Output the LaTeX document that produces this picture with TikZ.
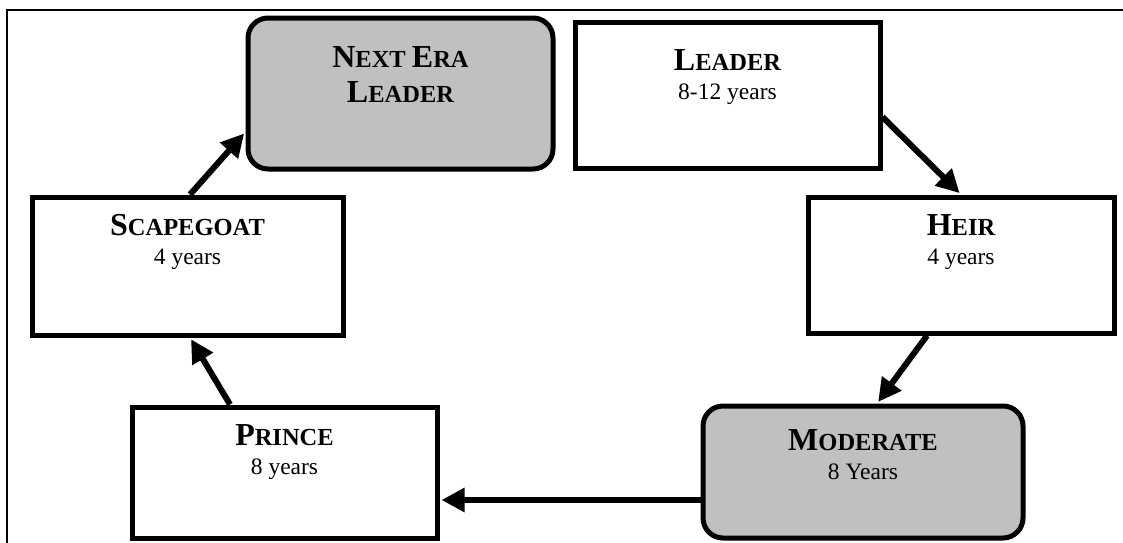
\documentclass[tikz,border=0pt]{standalone}
\usepackage{fontspec}
\setmainfont{Liberation Serif}
\usetikzlibrary{arrows.meta,calc}
\definecolor{boxgray}{RGB}{192,192,192}
% bold title with a large initial and smaller capitals after it
\newcommand{\stagetitle}[2]{{\fontsize{32}{36}\selectfont #1}#2}

\begin{document}
\begin{tikzpicture}[x=1pt,y=-1pt,
  stagebox/.style={draw, line width=5pt, rectangle, inner sep=0pt},
  plainbox/.style={stagebox, fill=white},
  greybox/.style={stagebox, fill=boxgray, rounded corners=20pt},
  titletext/.style={font=\fontsize{24.5}{28}\selectfont\bfseries, anchor=base, inner sep=0pt},
  yeartext/.style={font=\fontsize{23.5}{26}\selectfont, anchor=base, inner sep=0pt},
  flow/.style={line width=6pt, shorten >=2pt, -{Triangle[length=23pt,width=23pt]}}]

\useasboundingbox (0,0) rectangle (1123,542);

% outer frame (runs off the right and bottom edges)
\draw[line width=1.5pt] (7,545) -- (7,10) -- (1126,10);

% stages
\node[greybox, minimum width=305pt, minimum height=151pt] (nextera) at (400.5,93.5) {};
\node[plainbox, minimum width=305pt, minimum height=146pt] (leader) at (727.5,95) {};
\node[plainbox, minimum width=306pt, minimum height=136pt] (heir) at (961,265) {};
\node[greybox, minimum width=320pt, minimum height=132pt] (moderate) at (863,472) {};
\node[plainbox, minimum width=305pt, minimum height=131pt] (prince) at (284.5,472.5) {};
\node[plainbox, minimum width=311pt, minimum height=138pt] (scape) at (187.5,266) {};

% succession arrows
\draw[flow] ($(leader.east)+(0,22)$) -- (heir.north);
\draw[flow] ($(heir.south)+(-34,0)$) -- ($(moderate.north)+(14,0)$);
\coordinate (mw) at ($(moderate.west)+(0,28)$);
\draw[flow] (mw) -- (mw -| prince.east);
\draw[flow] ($(prince.north)+(-54.5,0)$) -- ($(scape.south)+(2.5,0)$);
\draw[flow] ($(scape.north)+(2.5,0)$) -- ($(nextera.west)+(0,38.5)$);

% labels
\node[titletext] (nexteraA) at ($(nextera.north)+(0,52)$) {\stagetitle{N}{EXT} \stagetitle{E}{RA}};
\node[titletext] (nexteraB) at ($(nextera.north)+(0,87)$) {\stagetitle{L}{EADER}};

\node[titletext] (leaderT) at ($(leader.north)+(0,51)$) {\stagetitle{L}{EADER}};
\node[yeartext] (leaderY) at ($(leader.north)+(0,80)$) {8-12 years};

\node[titletext] (heirT) at ($(heir.north)+(0,41)$) {\stagetitle{H}{EIR}};
\node[yeartext] (heirY) at ($(heir.north)+(0,70)$) {4 years};

\node[titletext] (moderateT) at ($(moderate.north)+(0,47)$) {\stagetitle{M}{ODERATE}};
\node[yeartext] (moderateY) at ($(moderate.north)+(0,76)$) {8 Years};

\node[titletext] (princeT) at ($(prince.north)+(0,41)$) {\stagetitle{P}{RINCE}};
\node[yeartext] (princeY) at ($(prince.north)+(0,70)$) {8 years};

\node[titletext] (scapeT) at ($(scape.north)+(0,41)$) {\stagetitle{S}{CAPEGOAT}};
\node[yeartext] (scapeY) at ($(scape.north)+(0,70)$) {4 years};
\end{tikzpicture}
\end{document}
